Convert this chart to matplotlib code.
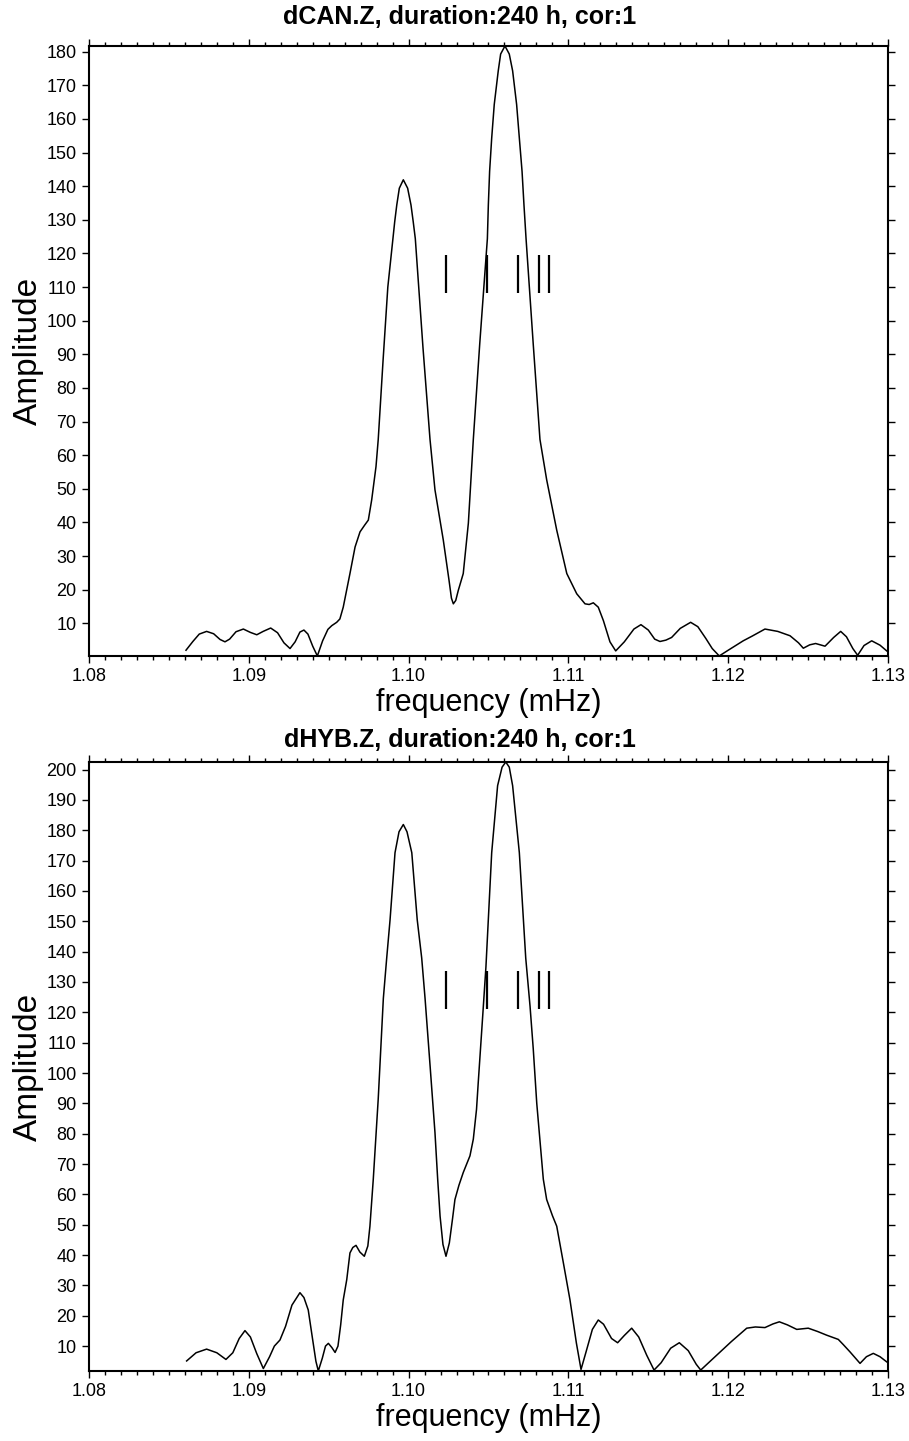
import numpy as np
import matplotlib
matplotlib.use('Agg')
import matplotlib.pyplot as plt
from matplotlib.ticker import MultipleLocator

plt.rcParams['font.family'] = ['Liberation Sans', 'DejaVu Sans']

# spectrum dCAN.Z (frequency in mHz, amplitude)
f_can = [1.08607, 1.0865, 1.0869, 1.08736, 1.0878, 1.0882, 1.08851, 1.0888, 1.0892, 1.08966,
         1.0901, 1.0905, 1.0909, 1.09137, 1.0918, 1.0922, 1.09258, 1.0929, 1.0932, 1.09345,
         1.0937, 1.0940, 1.09429, 1.09462, 1.09495, 1.09519, 1.0955, 1.0957, 1.09591, 1.09612,
         1.09633, 1.09665, 1.09696, 1.09725, 1.09748, 1.09769, 1.09796, 1.0981, 1.0984, 1.0987,
         1.09902, 1.09913, 1.09926, 1.09942, 1.09967, 1.09994, 1.10015, 1.10029, 1.10042, 1.1009,
         1.10134, 1.10165, 1.10217, 1.10253, 1.10268, 1.1028, 1.10295, 1.10311, 1.10342, 1.10374,
         1.10405, 1.10445, 1.10493, 1.10499, 1.10507, 1.1052, 1.10536, 1.10561, 1.10576, 1.10603,
         1.1063, 1.10651, 1.10676, 1.10693, 1.1071, 1.10722, 1.10735, 1.1078, 1.10822, 1.10864,
         1.10927, 1.1099, 1.11052, 1.11104, 1.1113, 1.11156, 1.11187, 1.11219, 1.1126, 1.11296,
         1.1135, 1.1141, 1.11454, 1.1150, 1.1154, 1.11573, 1.1161, 1.11646, 1.1170, 1.11765,
         1.1181, 1.1186, 1.1190, 1.11944, 1.1200, 1.12094, 1.1215, 1.1223, 1.1231, 1.12387,
         1.1244, 1.1247, 1.1251, 1.12547, 1.12606, 1.1266, 1.12704, 1.1274, 1.1278, 1.1281,
         1.1285, 1.12898, 1.1295, 1.12992]
a_can = [2.0, 4.6, 6.8, 7.6, 6.9, 5.2, 4.5, 5.3, 7.5, 8.3,
         7.3, 6.6, 7.6, 8.6, 7.2, 4.2, 2.5, 4.5, 7.4, 8.0,
         6.8, 3.2, 0.3, 4.8, 8.2, 9.3, 10.3, 11.3, 14.8, 19.8,
         24.8, 32.7, 37.2, 39.2, 40.7, 46.7, 56.6, 64.7, 88.0, 110.0,
         124.4, 129.4, 134.4, 139.4, 141.9, 139.4, 134.4, 129.4, 124.4, 92.0,
         64.7, 49.7, 34.8, 22.8, 17.5, 15.8, 16.8, 19.8, 24.8, 39.8,
         64.7, 93.0, 124.4, 134.4, 144.4, 154.3, 164.3, 174.3, 179.3, 181.7,
         179.3, 174.3, 164.3, 154.3, 144.4, 134.4, 124.4, 93.0, 64.7, 52.7,
         37.7, 24.8, 18.8, 15.8, 15.6, 16.1, 14.8, 10.8, 4.5, 1.8,
         4.5, 8.3, 9.6, 8.0, 5.3, 4.6, 5.0, 5.8, 8.5, 10.3,
         9.0, 5.5, 2.5, 0.3, 2.0, 4.8, 6.2, 8.3, 7.6, 6.3,
         4.2, 2.6, 3.6, 4.0, 3.2, 5.8, 7.6, 6.0, 2.5, 0.5,
         3.4, 4.8, 3.5, 1.8]

# spectrum dHYB.Z
f_hyb = [1.08611, 1.0867, 1.08736, 1.0880, 1.08857, 1.0890, 1.0894, 1.08976, 1.0901, 1.0905,
         1.09091, 1.0913, 1.0916, 1.09195, 1.0923, 1.0927, 1.0932, 1.09345, 1.09372, 1.0940,
         1.0942, 1.09435, 1.0946, 1.0948, 1.09498, 1.0952, 1.0954, 1.09558, 1.09575, 1.09591,
         1.09613, 1.09633, 1.09651, 1.09671, 1.09695, 1.09723, 1.09745, 1.09758, 1.09779, 1.0981,
         1.09842, 1.09863, 1.09884, 1.09915, 1.0994, 1.09967, 1.0999, 1.1002, 1.10054, 1.10082,
         1.10103, 1.10135, 1.10165, 1.10182, 1.10197, 1.10215, 1.10234, 1.10255, 1.10275, 1.1029,
         1.10315, 1.10342, 1.10384, 1.10405, 1.10425, 1.10436, 1.10464, 1.10484, 1.1052, 1.10557,
         1.10585, 1.10608, 1.1063, 1.10651, 1.10693, 1.10733, 1.1076, 1.1078, 1.10802, 1.10843,
         1.10864, 1.1090, 1.10927, 1.1097, 1.1101, 1.1105, 1.11079, 1.1111, 1.1115, 1.11187,
         1.1122, 1.1127, 1.11308, 1.1135, 1.11396, 1.1144, 1.1149, 1.11536, 1.1158, 1.1164,
         1.11694, 1.1175, 1.1180, 1.11828, 1.11928, 1.1202, 1.12116, 1.1217, 1.1223, 1.1228,
         1.1232, 1.1237, 1.12429, 1.12501, 1.1256, 1.12616, 1.12689, 1.1272, 1.12762, 1.12825,
         1.12865, 1.12908, 1.1295, 1.12992]
a_hyb = [5.1, 7.8, 9.0, 7.8, 5.6, 7.8, 12.5, 15.1, 13.0, 7.5,
         2.6, 6.5, 10.0, 12.0, 16.5, 23.5, 27.6, 26.0, 21.9, 12.0,
         5.0, 1.8, 6.0, 10.0, 10.9, 9.5, 7.9, 10.0, 17.0, 25.2,
         31.9, 40.7, 42.5, 43.2, 41.0, 39.6, 43.0, 49.5, 65.0, 91.5,
         124.6, 137.9, 150.5, 172.6, 179.5, 181.9, 179.5, 172.6, 150.5, 137.9,
         124.6, 102.0, 80.4, 65.0, 52.8, 43.5, 39.6, 44.0, 52.0, 58.3,
         63.0, 67.2, 72.7, 78.2, 88.0, 97.0, 119.0, 135.0, 172.6, 194.7,
         200.8, 202.5, 200.8, 194.7, 172.6, 137.9, 122.0, 108.0, 90.0, 65.0,
         58.3, 53.0, 49.5, 37.0, 25.2, 11.0, 2.3, 8.0, 15.5, 18.6,
         17.2, 12.5, 11.1, 13.5, 15.9, 13.0, 7.0, 2.1, 4.5, 9.3,
         11.1, 8.5, 4.0, 2.1, 7.0, 11.5, 15.9, 16.3, 16.1, 17.3,
         18.0, 17.0, 15.5, 15.9, 14.8, 13.6, 12.2, 10.5, 8.1, 4.3,
         6.5, 7.6, 6.5, 4.8]

# reference frequency marks
marks = [1.10234, 1.10493, 1.10685, 1.10814, 1.1088]
mark_can = (108.2, 119.4)
mark_hyb = (121.0, 133.6)

panels = [
    ('dCAN.Z, duration:240 h, cor:1', f_can, a_can, mark_can, 180),
    ('dHYB.Z, duration:240 h, cor:1', f_hyb, a_hyb, mark_hyb, 200),
]

fig = plt.figure(figsize=(9.09, 14.41), dpi=100)
boxes = [[0.0979, 0.5448, 0.879, 0.4233], [0.0979, 0.0486, 0.879, 0.4226]]
title_y = [0.9882, 0.4865]

for box, ty, (title, f, a, mk, top) in zip(boxes, title_y, panels):
    ax = fig.add_axes(box)
    ax.plot(f, a, color='black', lw=1.1)
    ax.vlines(marks, mk[0], mk[1], color='black', lw=1.6)
    ax.set_xlim(1.08, 1.13)
    ax.set_ylim(min(a), max(a))
    ax.xaxis.set_major_locator(MultipleLocator(0.01))
    ax.xaxis.set_minor_locator(MultipleLocator(0.001))
    ax.set_yticks(np.arange(10, top + 1, 10))
    ax.xaxis.set_major_formatter(plt.FormatStrFormatter('%.2f'))
    ax.tick_params(which='both', direction='out', top=True, right=True,
                   width=1.0, labelsize=13, pad=4)
    ax.tick_params(which='major', length=5)
    ax.tick_params(which='minor', length=3)
    for s in ax.spines.values():
        s.set_linewidth(1.5)
    fig.text(0.506, ty, title, fontsize=18, fontweight='bold', ha='center', va='center')
    ax.set_xlabel('frequency (mHz)', fontsize=22, labelpad=2)
    ax.set_ylabel('Amplitude', fontsize=24)
    ax.yaxis.set_label_coords(-0.056, 0.5)

fig.savefig('out.png', dpi=100)
